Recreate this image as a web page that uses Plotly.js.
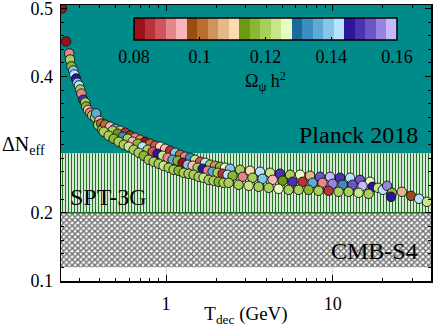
<!DOCTYPE html>
<html><head><meta charset="utf-8">
<script src="https://cdn.plot.ly/plotly-3.0.1.min.js"></script>
<style>html,body{margin:0;padding:0;background:#fff}#chart{width:436px;height:327px}</style>
</head><body><div id="chart"></div>
<script>
// ---- data ----
// thin head of the curve (low T_dec)
const headT = [0.237,0.251,0.262,0.265,0.270,0.277,0.281,0.288,0.293,0.300,0.305,0.310,0.318,0.327,0.331,0.340,0.350,0.360,0.375,0.380,0.397,0.391,0.408,0.419,0.414];
const headDN = [0.500,0.4515,0.434,0.425,0.415,0.409,0.403,0.397,0.391,0.387,0.381,0.375,0.366,0.362,0.356,0.351,0.347,0.343,0.340,0.346,0.335,0.329,0.331,0.325,0.322];
const headOmega = [0.0816,0.0816,0.0912,0.1200,0.1168,0.1392,0.1424,0.1456,0.1392,0.1424,0.1200,0.0912,0.1488,0.1200,0.1168,0.0944,0.0912,0.1200,0.1200,0.1360,0.0944,0.1200,0.1008,0.1328,0.1200];
// upper row of the band
const upperT = [0.431,0.461,0.494,0.530,0.568,0.608,0.652,0.698,0.748,0.802,0.859,0.921,0.986,1.057,1.132,1.213,1.300,1.393,1.493,1.600,1.714,1.836,1.968,2.108,2.259,2.421,2.78,3.19,3.66,4.21,4.83,5.55,6.37,7.31,8.39,9.64,11.07,12.71,14.59,16.75];
const upperDN = [0.3294,0.3265,0.3235,0.3206,0.3176,0.3132,0.3103,0.3074,0.3044,0.3015,0.2985,0.2971,0.2941,0.2912,0.2882,0.2853,0.2824,0.2809,0.2779,0.2750,0.2735,0.2706,0.2691,0.2676,0.2662,0.2647,0.2632,0.2618,0.2603,0.2588,0.2574,0.2559,0.2559,0.2544,0.2529,0.2529,0.2515,0.2515,0.2485,0.2456];
const upperOmega = [0.1008,0.0944,0.1360,0.1072,0.0848,0.0976,0.0912,0.1040,0.0816,0.1008,0.0880,0.1104,0.0944,0.0848,0.1392,0.1008,0.0912,0.1328,0.1232,0.0880,0.1424,0.1200,0.1040,0.1168,0.1264,0.1392,0.1200,0.1104,0.1424,0.1232,0.1488,0.1200,0.1264,0.1072,0.1520,0.1584,0.1488,0.1424,0.1520,0.1264];
// middle row of the band
const midT = [0.477,0.511,0.549,0.588,0.629,0.675,0.722,0.774,0.830,0.889,0.953,1.021,1.094,1.172,1.255,1.346,1.442,1.545,1.656,1.774,1.900,2.037,2.182,2.338,2.506,2.88,3.30,3.79,4.36,5.00,5.74,6.59,7.57,8.68,9.98,11.46,13.15,15.10,17.34];
const midDN = [0.3206,0.3162,0.3118,0.3088,0.3044,0.3015,0.2971,0.2926,0.2897,0.2868,0.2838,0.2809,0.2779,0.2765,0.2735,0.2706,0.2691,0.2662,0.2647,0.2618,0.2603,0.2588,0.2574,0.2559,0.2544,0.2529,0.2515,0.2500,0.2485,0.2471,0.2456,0.2456,0.2441,0.2441,0.2426,0.2412,0.2412,0.2397,0.2382];
const midOmega = [0.1200,0.1136,0.1328,0.1200,0.0944,0.1168,0.1424,0.1200,0.0880,0.1456,0.1232,0.0912,0.1360,0.1168,0.0816,0.1392,0.0944,0.1200,0.1456,0.0912,0.1360,0.1200,0.0848,0.1424,0.1168,0.0912,0.1200,0.1392,0.0944,0.1136,0.1488,0.0848,0.1360,0.0912,0.1552,0.1328,0.1520,0.1584,0.1456];
// lower (green) row of the band
const lowerT = [0.422,0.452,0.484,0.519,0.557,0.596,0.639,0.684,0.733,0.786,0.842,0.903,0.966,1.036,1.109,1.189,1.274,1.365,1.463,1.568,1.680,1.799,1.929,2.066,2.214,2.373,2.72,3.13,3.59,4.13,4.73,5.44,6.24,7.16,8.22,9.45,10.85,12.46,14.30,16.42];
const lowerDN = [0.3191,0.3132,0.3088,0.3044,0.3000,0.2971,0.2926,0.2882,0.2838,0.2779,0.2750,0.2721,0.2691,0.2662,0.2632,0.2618,0.2588,0.2574,0.2559,0.2529,0.2515,0.2485,0.2471,0.2456,0.2441,0.2441,0.2412,0.2397,0.2382,0.2368,0.2353,0.2338,0.2338,0.2338,0.2324,0.2324,0.2309,0.2309,0.2294,0.2279];
const lowerOmega = [0.1200,0.1200,0.1168,0.1200,0.1200,0.1232,0.1200,0.1200,0.1168,0.1200,0.1200,0.1200,0.1232,0.1200,0.1200,0.1168,0.1200,0.1200,0.1200,0.1200,0.1232,0.1200,0.1200,0.1168,0.1200,0.1200,0.1200,0.1232,0.1200,0.1200,0.1264,0.1200,0.1200,0.1168,0.1200,0.0848,0.1200,0.1200,0.1232,0.1200];
// high-T tail
const tailT = [18.7,20.0,21.2,22.7,22.4,26.0,29.5,33.0,36.8];
const tailDN = [0.2368,0.2338,0.2397,0.2294,0.2235,0.2309,0.2250,0.2206,0.2162];
const tailOmega = [0.1232,0.1424,0.1552,0.1168,0.1456,0.1072,0.0976,0.1424,0.1232];

// constraints
const planckLimit = 0.287;
const sptLimit = 0.2;
const s4Limit = 0.12;
const labels = ['Planck 2018','SPT-3G','CMB-S4'];

// axes
const xRange = [-0.631, 1.59];   // log10(T_dec)
const yRange = [0.1, 0.505];
const xMajor = [1, 10];
const xMajorText = ['1', '10'];
const xMinor = [0.3,0.4,0.5,0.6,0.7,0.8,0.9,2,3,4,5,6,7,8,9,20,30];
const yMajor = [0.1,0.2,0.4,0.5];
const yMajorText = ['0.1','0.2','0.4','0.5'];

// colour bar
const omegaMin = 0.08, omegaMax = 0.16;
const omegaTicks = [0.08,0.1,0.12,0.14,0.16];
const omegaTickText = ['0.08','0.1','0.12','0.14','0.16'];
const swatchColors = [
 '#9b1119','#b93239','#d0545b','#e6858a','#f9b5b9',
 '#994d10','#b86f2f','#cf9459','#e4b887','#fddcaf',
 '#6c9a13','#8ab833','#a8cf59','#c8e587','#e7fcc0',
 '#1a6aa0','#3b8cc0','#5eaad5','#86c6ea','#b5e4fc',
 '#2b169a','#4a32b1','#6d55c8','#9883e0','#c5b9fc'
];

const FONT = 'Liberation Serif, Times New Roman, serif';
const xLo = 0.1, xHi = 100, yHi = 1;

const colorscale = swatchColors.flatMap((c,i)=>[[i/swatchColors.length,c],[(i+1)/swatchColors.length,c]]);

const allT = headT.concat(upperT, midT, tailT, lowerT);
const allDN = headDN.concat(upperDN, midDN, tailDN, lowerDN);
const allOmega = headOmega.concat(upperOmega, midOmega, tailOmega, lowerOmega);

const traces = [
  {x:[xLo,xHi,xHi,xLo,xLo], y:[planckLimit,planckLimit,yHi,yHi,planckLimit], mode:'lines', fill:'toself',
   fillcolor:'#008b8b', line:{width:0}, hoverinfo:'skip', showlegend:false},
  {x:[xLo,xHi,xHi,xLo,xLo], y:[sptLimit,sptLimit,planckLimit,planckLimit,sptLimit], mode:'lines', fill:'toself',
   fillcolor:'#ffffff', fillpattern:{shape:'|', fgcolor:'#1f781f', bgcolor:'#ffffff', size:3, solidity:0.45},
   line:{width:0}, hoverinfo:'skip', showlegend:false},
  {x:[xLo,xHi,xHi,xLo,xLo], y:[s4Limit,s4Limit,sptLimit,sptLimit,s4Limit], mode:'lines', fill:'toself',
   fillcolor:'#ffffff', fillpattern:{shape:'x', fgcolor:'#6e6e6e', bgcolor:'#ffffff', size:4, solidity:0.6},
   line:{width:0}, hoverinfo:'skip', showlegend:false},
  {x:[xLo,xHi], y:[sptLimit,sptLimit], mode:'lines', line:{color:'#1d6e1d', width:1.5}, hoverinfo:'skip', showlegend:false},
  {x:allT, y:allDN, mode:'markers', showlegend:false,
   marker:{size:9.5, color:allOmega, coloraxis:'coloraxis', line:{color:'#111', width:0.9}}}
];

const layout = {
  width:436, height:327,
  margin:{l:61, r:5, t:5, b:46},
  paper_bgcolor:'#ffffff', plot_bgcolor:'#ffffff',
  font:{family:FONT, size:18, color:'#000'},
  showlegend:false,
  xaxis:{type:'log', range:xRange, showline:true, linecolor:'#000', linewidth:1.5, mirror:'allticks',
    ticks:'inside', ticklen:6, tickwidth:1.2, tickcolor:'#000', tickvals:xMajor, ticktext:xMajorText,
    showgrid:true, gridcolor:'#d8d8d8', gridwidth:1, zeroline:false, ticklabelstandoff:6,
    tickfont:{family:FONT, size:18, color:'#000'},
    minor:{tickvals:xMinor, ticks:'inside', ticklen:3, tickwidth:1, tickcolor:'#000', showgrid:false},
    title:{text:'T<sub>dec</sub> (GeV)', font:{family:FONT, size:19, color:'#000'}, standoff:4}},
  yaxis:{range:yRange, showline:true, linecolor:'#000', linewidth:1.5, mirror:'allticks',
    ticks:'inside', ticklen:6, tickwidth:1.2, tickcolor:'#000', tickvals:yMajor, ticktext:yMajorText,
    showgrid:false, zeroline:false, ticklabelstandoff:3, ticklabeloverflow:'allow',
    tickfont:{family:FONT, size:18, color:'#000'},
    minor:{dtick:0.02, tick0:0.1, ticks:'inside', ticklen:3, tickwidth:1, tickcolor:'#000', showgrid:false}},
  coloraxis:{cmin:omegaMin, cmax:omegaMax, colorscale:colorscale,
    colorbar:{orientation:'h', x:0.553, xanchor:'center', y:0.953, yanchor:'top',
      len:0.711, lenmode:'fraction', thickness:22, thicknessmode:'pixels',
      outlinecolor:'#000', outlinewidth:1.5, xpad:0, ypad:0, bgcolor:'rgba(0,0,0,0)',
      tickvals:omegaTicks, ticktext:omegaTickText, ticks:'inside', ticklen:3, tickcolor:'#000',
      tickfont:{family:FONT, size:18, color:'#000'},
      title:{text:'Ω<sub>ψ</sub> h<sup>2</sup>', side:'bottom', font:{family:FONT, size:18, color:'#000'}}}},
  annotations:[
    {text:'ΔN<sub>eff</sub>', xref:'paper', yref:'paper', x:-0.165, y:0.49, xanchor:'left', yanchor:'middle',
     showarrow:false, font:{family:FONT, size:20, color:'#000'}},
    {text:labels[0], xref:'paper', yref:'paper', x:0.970, y:0.529, xanchor:'right', yanchor:'middle',
     showarrow:false, font:{family:FONT, size:24, color:'#000'}},
    {text:labels[1], xref:'paper', yref:'paper', x:0.019, y:0.306, xanchor:'left', yanchor:'middle',
     showarrow:false, font:{family:FONT, size:24, color:'#000'}},
    {text:labels[2], xref:'paper', yref:'paper', x:0.970, y:0.107, xanchor:'right', yanchor:'middle',
     showarrow:false, font:{family:FONT, size:24, color:'#000'}}
  ]
};

Plotly.newPlot('chart', traces, layout, {staticPlot:true, displayModeBar:false});
</script>
</body></html>
